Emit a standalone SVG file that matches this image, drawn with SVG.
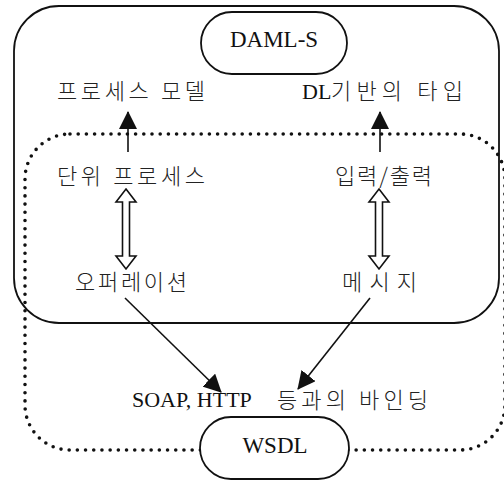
<svg xmlns="http://www.w3.org/2000/svg" width="504" height="482" viewBox="0 0 504 482">
  <style>
    .frame { fill: none; stroke: #111; stroke-width: 1.8; }
    .dotted { fill: none; stroke: #111; stroke-width: 3.6; stroke-linecap: round; stroke-dasharray: 0 8.2; }
    .pill { fill: #fff; stroke: #111; stroke-width: 1.8; }
    .title { font-family: "Liberation Serif", "Times New Roman", serif; font-size: 23px; fill: #111; text-anchor: middle; }
    .ko { font-family: "Noto Sans CJK KR", "Noto Sans", sans-serif; font-size: 22px; font-weight: 300; fill: #222; }
    .lat { font-family: "Liberation Serif", "Times New Roman", serif; font-size: 22px; fill: #111; }
    .link { stroke: #111; stroke-width: 1.6; fill: none; }
    .hollow { fill: #fff; stroke: #111; stroke-width: 1.6; stroke-linejoin: miter; }
  </style>
  <defs>
    <marker id="head" viewBox="0 0 18 18" refX="17" refY="9" markerWidth="18" markerHeight="18" markerUnits="userSpaceOnUse" orient="auto">
      <path d="M0,0 L18,9 L0,18 Z" fill="#111"/>
    </marker>
    <!-- two-headed outline arrow, pointing up/down, centred on x=0 -->
    <path id="dbl" d="M0,0 L10,13 L3.5,13 L3.5,67 L10,67 L0,80 L-10,67 L-3.5,67 L-3.5,13 L-10,13 Z"/>
  </defs>

  <!-- WSDL boundary (dotted) -->
  <g id="wsdl-area">
    <rect class="dotted" x="25" y="134" width="480" height="316" rx="45" ry="45"/>
  </g>

  <!-- DAML-S boundary (solid) -->
  <g id="daml-area">
    <rect class="frame" x="14" y="6" width="485" height="317" rx="45" ry="45"/>
  </g>

  <g id="daml-s">
    <rect class="pill" x="201" y="12" width="146" height="62" rx="31" ry="31"/>
    <text class="title" x="274" y="47">DAML-S</text>
  </g>

  <g id="wsdl">
    <rect class="pill" x="200" y="417" width="149" height="62" rx="31" ry="31"/>
    <text class="title" x="275" y="453">WSDL</text>
  </g>

  <g id="process-model">
    <text class="ko" x="57" y="99" textLength="148" lengthAdjust="spacing">프로세스 모델</text>
  </g>
  <g id="dl-type">
    <text class="lat" x="302" y="99" font-size="21">DL</text>
    <text class="ko" x="331" y="99" textLength="132" lengthAdjust="spacing">기반의 타입</text>
  </g>
  <g id="atomic-process">
    <text class="ko" x="57" y="184" textLength="148" lengthAdjust="spacing">단위 프로세스</text>
  </g>
  <g id="input-output">
    <text class="ko" x="335" y="184" textLength="97" lengthAdjust="spacing">입력/출력</text>
  </g>
  <g id="operation">
    <text class="ko" x="75" y="290" textLength="112" lengthAdjust="spacing">오퍼레이션</text>
  </g>
  <g id="message">
    <text class="ko" x="342" y="290" textLength="75" lengthAdjust="spacing">메시지</text>
  </g>
  <g id="binding">
    <text class="lat" x="132" y="407">SOAP, HTTP</text>
    <text class="ko" x="277" y="408" textLength="151" lengthAdjust="spacing">등과의 바인딩</text>
  </g>

  <!-- connectors -->
  <g id="connectors">
    <line class="link" x1="128" y1="152" x2="128" y2="112" marker-end="url(#head)"/>
    <line class="link" x1="380" y1="152" x2="380" y2="112" marker-end="url(#head)"/>
    <use href="#dbl" class="hollow" x="126" y="189"/>
    <use href="#dbl" class="hollow" x="379" y="189"/>
    <line class="link" x1="125" y1="298" x2="221" y2="392" marker-end="url(#head)"/>
    <line class="link" x1="370" y1="298" x2="298" y2="389" marker-end="url(#head)"/>
  </g>
</svg>
